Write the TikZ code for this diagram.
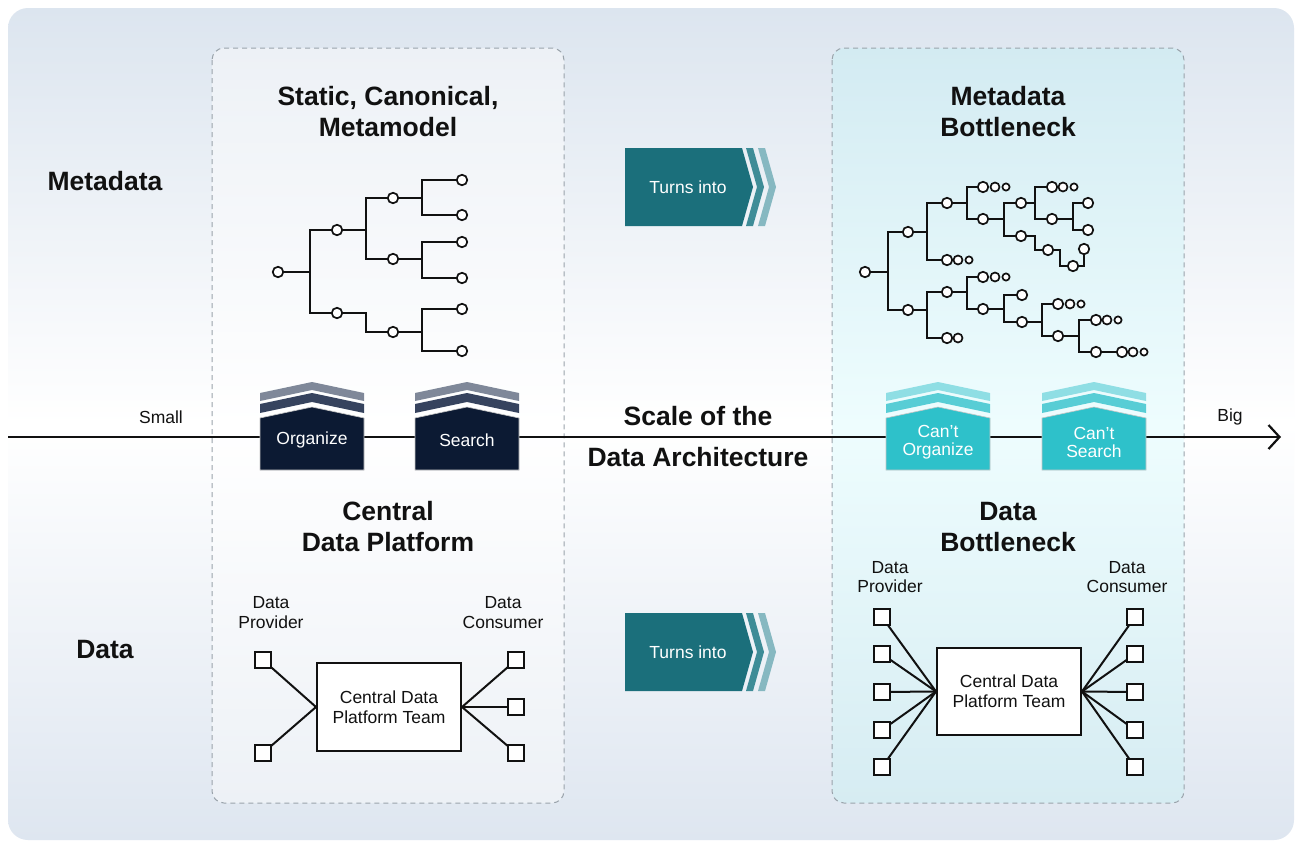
\documentclass[tikz,border=0pt]{standalone}
\usepackage{fontspec}
\setmainfont{Liberation Sans}
\usetikzlibrary{arrows.meta,calc}

\definecolor{ink}{HTML}{111111}
\definecolor{bgtop}{HTML}{DCE5EF}
\definecolor{bgbot}{HTML}{DEE6F0}
\definecolor{leftpan}{HTML}{EDF1F6}
\definecolor{rtop}{HTML}{D3EBF2}
\definecolor{rmid}{HTML}{EEFDFE}
\definecolor{rbot}{HTML}{D6ECF2}
\definecolor{dashgray}{HTML}{9AA3AB}
\definecolor{navy}{HTML}{0C1A33}
\definecolor{slateA}{HTML}{36435E}
\definecolor{slateB}{HTML}{7F8899}
\definecolor{cyanbox}{HTML}{2EC1CA}
\definecolor{cyanA}{HTML}{58CDD5}
\definecolor{cyanB}{HTML}{8FDEE4}
\definecolor{tealA}{HTML}{1B6F7B}
\definecolor{tealB}{HTML}{3E8C97}
\definecolor{tealC}{HTML}{86B8C1}

% arrow-shaped "Turns into" marker, #1 = vertical offset, #2 = node name
\newcommand\turnsmarker[2]{%
  \begin{scope}[shift={(0,#1)}]
    \fill[tealA] (625,148) -- (742,148) -- (753,187) -- (742,226) -- (625,226) -- cycle;
    \fill[tealB] (746,148) -- (753,148) -- (764,187) -- (753,226) -- (746,226) -- (757,187) -- cycle;
    \fill[tealC] (758,148) -- (765,148) -- (776,187) -- (765,226) -- (758,226) -- (769,187) -- cycle;
    \node[btntext] (#2) at (688,187) {Turns into};
  \end{scope}}

% house-shaped capability button:
% #1 left x, #2 body, #3 inner band, #4 outer band, #5 name, #6 label y, #7 text
\newcommand\housebtn[7]{%
  \begin{scope}[shift={(#1,0)}]
    \fill[#4] (0,401) -- (0,393) -- (52,382) -- (104,393) -- (104,401) -- (52,390) -- cycle;
    \fill[#3] (0,413) -- (0,404) -- (52,393) -- (104,404) -- (104,413) -- (52,402) -- cycle;
    \filldraw[fill=#2, draw=gray!45, line width=0.6pt] (0,470) -- (0,418) -- (52,407) -- (104,418) -- (104,470) -- cycle;
    \node[btntext] (#5) at (52,#6) {#7};
  \end{scope}}

\begin{document}
\begin{tikzpicture}[x=1pt,y=-1pt,
  head/.style={font=\fontsize{26.5}{31}\selectfont\bfseries, align=center, text=ink, inner sep=0pt},
  lbl/.style={font=\fontsize{17.5}{19.5}\selectfont, align=center, text=ink, inner sep=0pt},
  btntext/.style={font=\fontsize{17.5}{18}\selectfont, align=center, text=white, inner sep=0pt},
  dot/.style={circle, draw=ink, fill=white, line width=1.7pt, inner sep=0pt, minimum size=10.5pt},
  dotm/.style={dot, minimum size=9pt},
  dots/.style={dot, minimum size=7.2pt},
  wire/.style={draw=ink, line width=2pt},
  sq/.style={rectangle, draw=ink, fill=white, line width=1.6pt, minimum size=15.5pt, inner sep=0pt},
  platform/.style={rectangle, draw=ink, fill=white, line width=2pt, minimum width=144pt, minimum height=88pt,
    font=\fontsize{17.5}{20}\selectfont, align=center, text=ink},
  panel/.style={draw=dashgray, line width=1pt, dash pattern=on 5pt off 4pt, rounded corners=12pt}
]
\useasboundingbox (0,0) rectangle (1296,844);
\fill[white] (0,0) rectangle (1296,844);

% background and the two dashed panels
\shade[rounded corners=20pt, top color=bgtop, bottom color=bgbot, middle color=white]
  (8,8) rectangle (1294,840);
\shade[rounded corners=12pt, top color=leftpan, bottom color=leftpan, middle color=white] (212,48) rectangle (564,803);
\shade[rounded corners=12pt, top color=rtop, bottom color=rbot, middle color=rmid] (832,48) rectangle (1184,803);
\draw[panel] (212,48) rectangle (564,803);
\draw[panel] (832,48) rectangle (1184,803);

% scale axis
\coordinate (axL) at (8,437);
\coordinate (axR) at (1281,437);
\draw[draw=ink, line width=2.4pt, -{Straight Barb[length=11pt, width=24pt, line width=2.2pt]}] (axL) -- (axR);
\node[lbl] (small) at (161,417) {Small};
\node[lbl] (big) at (1230,417) {Big};

% row and panel headings
\node[head] (hMeta) at (105,181) {Metadata};
\node[head] (hData) at (105,650) {Data};
\node[head] (tStatic) at (388,111.5) {Static, Canonical,\\Metamodel};
\node[head] (tMetaB) at (1008,111.5) {Metadata\\Bottleneck};
\node[head] (tCentral) at (388,527) {Central\\Data Platform};
\node[head] (tDataB) at (1008,527) {Data\\Bottleneck};
\node[head, font=\fontsize{26.5}{41}\selectfont\bfseries] (tScale) at (698,436.5) {Scale of the\\Data Architecture};

% transition markers
\turnsmarker{0}{turnsA}
\turnsmarker{465}{turnsB}

% capability buttons on the axis
\housebtn{260}{navy}{slateA}{slateB}{bOrg}{440}{Organize}
\housebtn{415}{navy}{slateA}{slateB}{bSearch}{440}{Search}
\housebtn{886}{cyanbox}{cyanA}{cyanB}{bCOrg}{442.5}{Can’t\\Organize}
\housebtn{1042}{cyanbox}{cyanA}{cyanB}{bCSearch}{442.5}{Can’t\\Search}

% ---------- canonical metamodel tree ----------
\node[dot] (L0) at (278,272) {};
\node[dot] (L1a) at (337,230) {};
\node[dot] (L1b) at (337,313) {};
\node[dot] (L2a) at (393,198) {};
\node[dot] (L2b) at (393,259) {};
\node[dot] (L2c) at (393,332) {};
\node[dot] (L3a) at (462,180) {};
\node[dot] (L3b) at (462,215) {};
\node[dot] (L3c) at (462,242) {};
\node[dot] (L3d) at (462,278) {};
\node[dot] (L3e) at (462,309) {};
\node[dot] (L3f) at (462,351) {};
\coordinate (jL0) at (310,272);
\coordinate (jL1a) at (366,230);
\coordinate (jL1b) at (366,313);
\coordinate (jL2a) at (422,198);
\coordinate (jL2b) at (422,259);
\coordinate (jL2c) at (422,332);
\begin{scope}[wire]
  \draw (L0) -- (jL0);
  \draw (L1a) -| (jL0) |- (L1b);
  \draw (L1a) -- (jL1a);
  \draw (L2a) -| (jL1a) |- (L2b);
  \draw (L1b) -- (jL1b) |- (L2c);
  \draw (L2a) -- (jL2a);
  \draw (L3a) -| (jL2a) |- (L3b);
  \draw (L2b) -- (jL2b);
  \draw (L3c) -| (jL2b) |- (L3d);
  \draw (L2c) -- (jL2c);
  \draw (L3e) -| (jL2c) |- (L3f);
\end{scope}

% ---------- sprawling metadata tree ----------
\node[dot] (R0) at (865,272) {};
\node[dot] (Ra) at (908,232) {};
\node[dot] (Rb) at (908,310) {};
\node[dot] (Rc) at (947,203) {};
\node[dot] (G1) at (947,260) {};
\node[dotm] (G1b) at (958,260) {};
\node[dots] (G1c) at (969,260) {};
\node[dot] (G2) at (983,187) {};
\node[dotm] (G2b) at (995,187) {};
\node[dots] (G2c) at (1006,187) {};
\node[dot] (Rd) at (983,219) {};
\node[dot] (Re) at (1021,203) {};
\node[dot] (Rf) at (1021,236) {};
\node[dot] (G3) at (1052,187) {};
\node[dotm] (G3b) at (1063,187) {};
\node[dots] (G3c) at (1074,187) {};
\node[dot] (Rg) at (1052,219) {};
\node[dot] (Rg1) at (1088,203) {};
\node[dot] (Rg2) at (1088,230) {};
\node[dot] (Rh) at (1048,250) {};
\node[dot] (Ri) at (1073,266) {};
\node[dot] (Ri1) at (1084,249) {};
\node[dot] (Rj) at (947,292) {};
\node[dot] (G4) at (947,338) {};
\node[dotm] (G4b) at (958,338) {};
\node[dot] (G5) at (983,277) {};
\node[dotm] (G5b) at (995,277) {};
\node[dots] (G5c) at (1006,277) {};
\node[dot] (Rk) at (983,309) {};
\node[dot] (Rk1) at (1022,295) {};
\node[dot] (Rl) at (1022,322) {};
\node[dot] (G6) at (1058,304) {};
\node[dotm] (G6b) at (1070,304) {};
\node[dots] (G6c) at (1081,304) {};
\node[dot] (Rm) at (1058,336) {};
\node[dot] (G7) at (1096,320) {};
\node[dotm] (G7b) at (1107,320) {};
\node[dots] (G7c) at (1118,320) {};
\node[dot] (Rn) at (1096,352) {};
\node[dot] (G8) at (1122,352) {};
\node[dotm] (G8b) at (1133,352) {};
\node[dots] (G8c) at (1144,352) {};
\coordinate (jR0) at (888,272);
\coordinate (jRa) at (927,232);
\coordinate (jRb) at (927,310);
\coordinate (jRc) at (967,203);
\coordinate (jRd) at (1004,219);
\coordinate (jRe) at (1035,203);
\coordinate (jRg) at (1073,219);
\coordinate (jRf) at (1035,236);
\coordinate (jRh) at (1060,250);
\coordinate (jRi) at (1084,266);
\coordinate (jRj) at (967,292);
\coordinate (jRk) at (1004,309);
\coordinate (jRl) at (1042,322);
\coordinate (jRm) at (1079,336);
\begin{scope}[wire]
  \draw (R0) -- (jR0);
  \draw (Ra) -| (jR0) |- (Rb);
  \draw (Ra) -- (jRa);
  \draw (Rc) -| (jRa) |- (G1);
  \draw (Rc) -- (jRc);
  \draw (G2) -| (jRc) |- (Rd);
  \draw (Rd) -- (jRd);
  \draw (Re) -| (jRd) |- (Rf);
  \draw (Re) -- (jRe);
  \draw (G3) -| (jRe) |- (Rg);
  \draw (Rg) -- (jRg);
  \draw (Rg1) -| (jRg) |- (Rg2);
  \draw (Rf) -- (jRf) |- (Rh);
  \draw (Rh) -- (jRh) |- (Ri);
  \draw (Ri) -- (jRi) -- (Ri1);
  \draw (Rb) -- (jRb);
  \draw (Rj) -| (jRb) |- (G4);
  \draw (Rj) -- (jRj);
  \draw (G5) -| (jRj) |- (Rk);
  \draw (Rk) -- (jRk);
  \draw (Rk1) -| (jRk) |- (Rl);
  \draw (Rl) -- (jRl);
  \draw (G6) -| (jRl) |- (Rm);
  \draw (Rm) -- (jRm);
  \draw (G7) -| (jRm) |- (Rn);
  \draw (Rn) -- (G8);
\end{scope}

% ---------- central data platform ----------
\node[lbl] (provL) at (271,612.5) {Data\\Provider};
\node[lbl] (consL) at (503,612.5) {Data\\Consumer};
\node[platform] (platL) at (389,707) {Central Data\\Platform Team};
\node[sq] (pL1) at (263,660) {};
\node[sq] (pL2) at (263,753) {};
\node[sq] (cL1) at (516,660) {};
\node[sq] (cL2) at (516,707) {};
\node[sq] (cL3) at (516,753) {};
\begin{scope}[wire]
  \foreach \p in {pL1,pL2} \draw (\p) -- (platL.west);
  \foreach \c in {cL1,cL2,cL3} \draw (platL.east) -- (\c);
\end{scope}

% ---------- data bottleneck ----------
\node[lbl] (provR) at (890,577) {Data\\Provider};
\node[lbl] (consR) at (1127,577) {Data\\Consumer};
\node[platform, minimum height=87pt] (platR) at (1009,691.5) {Central Data\\Platform Team};
\foreach \i/\y in {1/617,2/654,3/692,4/730,5/767}{
  \node[sq] (pR\i) at (882,\y) {};
  \node[sq] (cR\i) at (1135,\y) {};
}
\begin{scope}[wire]
  \foreach \i in {1,...,5}{
    \draw (pR\i) -- (platR.west);
    \draw (platR.east) -- (cR\i);
  }
\end{scope}
\end{tikzpicture}
\end{document}
